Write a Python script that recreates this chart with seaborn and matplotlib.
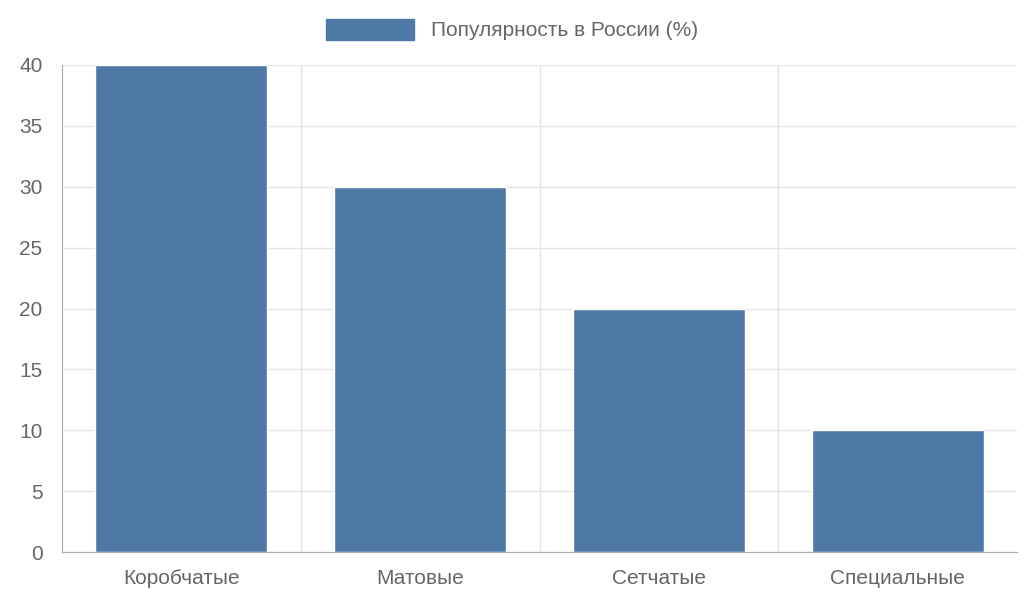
import matplotlib
matplotlib.use('Agg')
import matplotlib.pyplot as plt
import seaborn as sns
import pandas as pd
from matplotlib.patches import Patch

categories = ['Коробчатые', 'Матовые', 'Сетчатые', 'Специальные']
values = [40, 30, 20, 10]
series_name = 'Популярность в России (%)'

sns.set_style('white')
plt.rcParams['font.family'] = ['Liberation Sans', 'DejaVu Sans']

df = pd.DataFrame({'cat': categories, 'val': values})
fig = plt.figure(figsize=(10.24, 6.14), dpi=100)
ax = fig.add_axes([62/1024, 1-552/614, (1017-62)/1024, (552-65)/614])
sns.barplot(data=df, x='cat', y='val', color='#4e79a7', saturation=1, width=0.72, ax=ax)

ax.set_xlim(-0.5, 3.5)
ax.set_ylim(0, 40)
ax.set_yticks(range(0, 41, 5))
ax.set_xticks([0.5, 1.5, 2.5], minor=True)
ax.set_xlabel('')
ax.set_ylabel('')
ax.grid(axis='y', color='#e5e5e5', lw=1)
ax.grid(axis='x', which='minor', color='#e5e5e5', lw=1)
ax.set_axisbelow(True)
ax.tick_params(axis='x', which='major', length=0, pad=12, labelsize=15, colors='#666666')
ax.tick_params(axis='x', which='minor', length=20, color='#cccccc', direction='out')
ax.tick_params(axis='y', length=8, color='#cccccc', labelsize=15, colors='#666666', pad=6)
for s in ['top', 'right']:
    ax.spines[s].set_visible(False)
for s in ['left', 'bottom']:
    ax.spines[s].set_color('#aaaaaa')

fig.legend(handles=[Patch(color='#4e79a7', label=series_name)], loc='upper center',
           bbox_to_anchor=(0.5, 1.0), frameon=False, fontsize=15, handlelength=4.2,
           handleheight=1.2, labelcolor='#666666')
fig.savefig('out.png', dpi=100)
